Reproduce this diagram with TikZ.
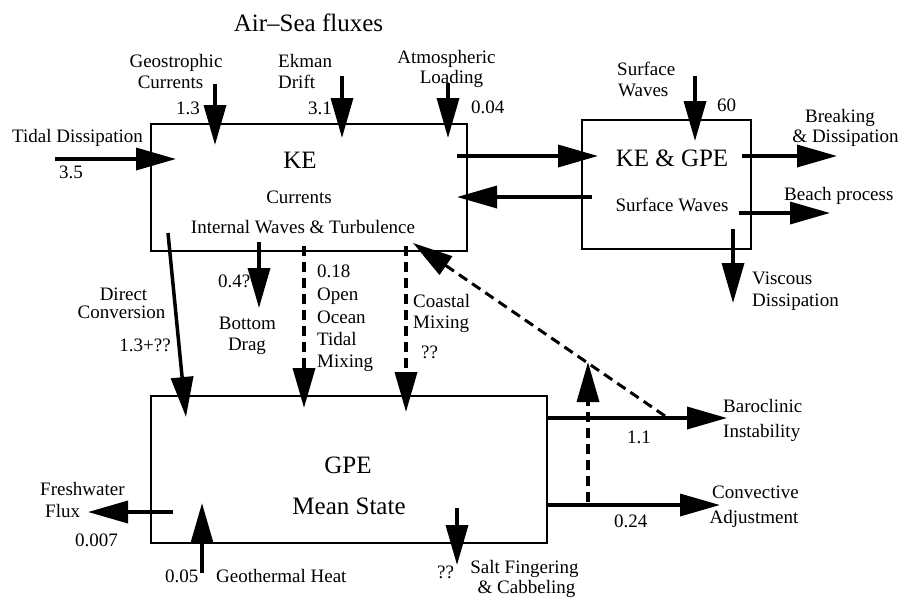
\documentclass[tikz,border=0pt]{standalone}
\usepackage{fontspec}
\setmainfont{Liberation Serif}
\usetikzlibrary{arrows.meta}
\begin{document}
\begin{tikzpicture}[x=1pt,y=-1pt,
  lab/.style={inner sep=0pt, anchor=base, font=\fontsize{19}{21}\selectfont},
  labw/.style={lab, anchor=base west},
  labe/.style={lab, anchor=base east},
  big/.style={inner sep=0pt, anchor=base, font=\fontsize{25}{28}\selectfont},
  boxst/.style={draw, line width=1.5pt},
  flow/.style={line width=3.5pt, -{Triangle[length=40pt,width=22pt]}},
  dflow/.style={flow, dash pattern=on 10pt off 6pt},
]
\useasboundingbox (0,0) rectangle (901,598);
% boxes
\draw[boxst] (151,124) rectangle (467,251);
\draw[boxst] (582,120) rectangle (751,249);
\draw[boxst] (151,396) rectangle (547,543);
\coordinate (keboxA) at (151,124);

% titles
\node[big] (title) at (308.5,31) {Air–Sea fluxes};
\node[big] (ke) at (300,168) {KE};
\node[lab] (kecur) at (299,203) {Currents};
\node[lab] (keiw) at (303,233) {Internal Waves \& Turbulence};
\node[big] (kegpe) at (672,166) {KE \& GPE};
\node[lab] (kegpesw) at (672,211) {Surface Waves};
\node[big] (gpe) at (348,473) {GPE};
\node[big] (ms) at (349,514) {Mean State};

% labels top
\node[lab] (geo1) at (176,67) {Geostrophic};
\node[lab] (geo2) at (170.5,88) {Currents};
\node[labw] (geon) at (176,114) {1.3};
\node[labw] (ek1) at (278,67) {Ekman};
\node[labw] (ek2) at (278,88) {Drift};
\node[labw] (ekn) at (308,114) {3.1};
\node[lab] (at1) at (446.5,63) {Atmospheric};
\node[lab] (at2) at (451.5,83) {Loading};
\node[labw] (atn) at (471,113) {0.04};
\node[labw] (td1) at (12,142) {Tidal Dissipation};
\node[labw] (tdn) at (59,178) {3.5};
\node[labw] (sw1) at (617,75) {Surface};
\node[labw] (sw2) at (618,96) {Waves};
\node[labw] (swn) at (717,111) {60};
\node[lab] (br1) at (840,122) {Breaking};
\node[lab] (br2) at (845.5,142) {\& Dissipation};
\node[labw] (bp) at (784,200) {Beach process};
\node[labw] (vd1) at (752,284) {Viscous};
\node[labw] (vd2) at (752,306) {Dissipation};

% labels middle
\node[lab] (dc1) at (123.5,300) {Direct};
\node[lab] (dc2) at (121.5,318) {Conversion};
\node[labe] (dcn) at (171,351) {1.3+??};
\node[labw] (bdn) at (218,287) {0.4?};
\node[lab] (bd1) at (247.5,329) {Bottom};
\node[lab] (bd2) at (247,350) {Drag};
\node[labw] (oon) at (317,277) {0.18};
\node[labw] (oo1) at (317,300) {Open};
\node[labw] (oo2) at (317,323) {Ocean};
\node[labw] (oo3) at (317,345) {Tidal};
\node[labw] (oo4) at (317,367) {Mixing};
\node[labw] (cm1) at (413,307) {Coastal};
\node[labw] (cm2) at (413,328) {Mixing};
\node[labw] (cmn) at (421,358) {??};

% labels bottom
\node[labw] (bi1) at (723,412) {Baroclinic};
\node[labw] (bi2) at (723,437) {Instability};
\node[labw] (bin) at (627,443) {1.1};
\node[lab] (ca1) at (755.5,498) {Convective};
\node[lab] (ca2) at (754,523) {Adjustment};
\node[labw] (can) at (614,527) {0.24};
\node[labw] (fw1) at (40,495) {Freshwater};
\node[labw] (fw2) at (45,517) {Flux};
\node[labw] (fwn) at (75,546) {0.007};
\node[labw] (ghn) at (165,582) {0.05};
\node[labw] (gh) at (216,582) {Geothermal Heat};
\node[labw] (sfn) at (437,578) {??};
\node[lab] (sf1) at (524.5,573) {Salt Fingering};
\node[lab] (sf2) at (526.5,593) {\& Cabbeling};

% arrow end points
\coordinate (geoA) at (215,84);   \coordinate (geoB) at (215,145);
\coordinate (ekA) at (342,76);    \coordinate (ekB) at (342,138);
\coordinate (atA) at (448,83);    \coordinate (atB) at (448,138);
\coordinate (tdA) at (55,159);    \coordinate (tdB) at (176,159);
\coordinate (kwA) at (457,156);   \coordinate (kwB) at (598,156);
\coordinate (wkA) at (592,197);   \coordinate (wkB) at (457,197);
\coordinate (swA) at (695,76);    \coordinate (swB) at (695,141);
\coordinate (brA) at (742,156);   \coordinate (brB) at (837,156);
\coordinate (bpA) at (739,213);   \coordinate (bpB) at (830,213);
\coordinate (vdA) at (733,229);   \coordinate (vdB) at (733,303);
\coordinate (dcA) at (168,233);   \coordinate (dcB) at (186,417);
\coordinate (bdA) at (259,242);   \coordinate (bdB) at (259,308);
\coordinate (ooA) at (304,246);   \coordinate (ooB) at (304,408);
\coordinate (cmA) at (406,246);   \coordinate (cmB) at (406,412);
\coordinate (dgA) at (665,416);   \coordinate (dgB) at (413,243);
\coordinate (vtA) at (588,502);   \coordinate (vtB) at (588,362);
\coordinate (biA) at (547,418);   \coordinate (biB) at (727,418);
\coordinate (caA) at (547,505);   \coordinate (caB) at (720,505);
\coordinate (sfA) at (457,508);   \coordinate (sfB) at (457,565);
\coordinate (fwA) at (173,512);   \coordinate (fwB) at (88,512);
\coordinate (ghA) at (202,573);   \coordinate (ghB) at (202,503);

% arrows
\draw[flow] (geoA) -- (geoB);
\draw[flow] (ekA) -- (ekB);
\draw[flow] (atA) -- (atB);
\draw[flow] (tdA) -- (tdB);
\draw[flow] (kwA) -- (kwB);
\draw[flow] (wkA) -- (wkB);
\draw[flow] (swA) -- (swB);
\draw[flow] (brA) -- (brB);
\draw[flow] (bpA) -- (bpB);
\draw[flow] (vdA) -- (vdB);
\draw[flow] (dcA) -- (dcB);
\draw[flow] (bdA) -- (bdB);
\draw[dflow] (ooA) -- (ooB);
\draw[dflow] (cmA) -- (cmB);
\draw[dflow, line width=3pt] (dgA) -- (dgB);
\draw[dflow] (vtA) -- (vtB);
\draw[flow] (biA) -- (biB);
\draw[flow] (caA) -- (caB);
\draw[flow] (sfA) -- (sfB);
\draw[flow] (fwA) -- (fwB);
\draw[flow] (ghA) -- (ghB);
\end{tikzpicture}
\end{document}
